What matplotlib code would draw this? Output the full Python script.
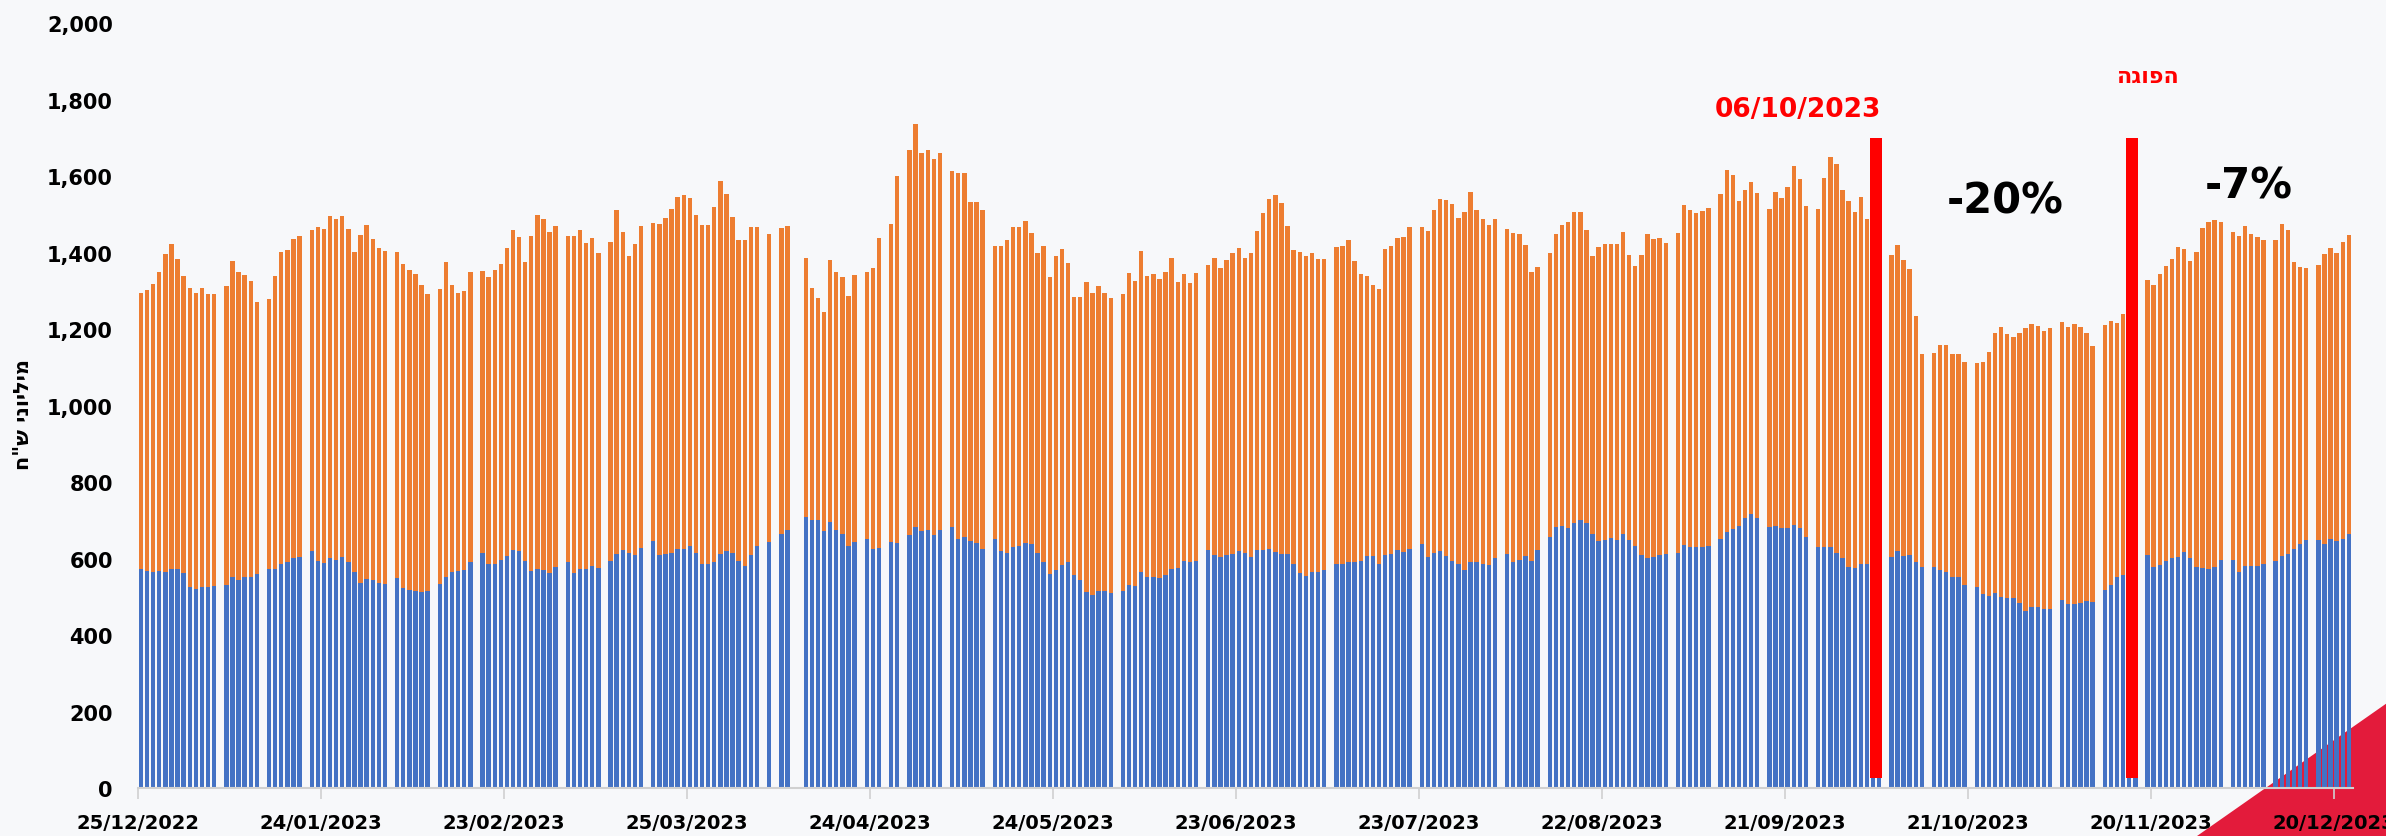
import datetime as dt

import matplotlib
matplotlib.use("Agg")
import matplotlib.pyplot as plt
from matplotlib.patches import Polygon

## data: daily values in millions NIS, day offsets counted from 25/12/2022
start = dt.date(2022, 12, 25)

run_start = [0, 14, 21, 28, 42, 49, 56, 70, 77, 84, 103, 105, 109, 119, 123, 126, 133,
             140, 161, 175, 196, 210, 224, 231, 252, 259, 267, 275, 287, 294, 301, 315,
             322, 329, 343, 350, 357]
run_len   = [13, 6, 6, 13, 6, 6, 13, 6, 6, 18, 1, 2, 9, 3, 2, 6, 6,
             20, 13, 20, 13, 13, 6, 20, 6, 7, 7, 11, 6, 6, 13, 6,
             6, 13, 6, 6, 6]

total = [
    1294, 1302, 1317, 1349, 1397, 1422, 1384, 1339, 1306, 1294, 1308, 1291, 1291,
    1312, 1377, 1350, 1342, 1325, 1271,
    1278, 1339, 1401, 1407, 1436, 1443,
    1459, 1466, 1462, 1495, 1488, 1496, 1461, 1401, 1446, 1473, 1436, 1411, 1405,
    1402, 1371, 1354, 1343, 1315, 1291,
    1304, 1374, 1316, 1294, 1299, 1349,
    1353, 1337, 1354, 1370, 1411, 1459, 1441, 1375, 1443, 1499, 1487, 1453, 1469,
    1444, 1443, 1459, 1425, 1439, 1400,
    1427, 1512, 1453, 1392, 1421, 1469,
    1477, 1475, 1489, 1514, 1545, 1551, 1542, 1498, 1471, 1471, 1518, 1586, 1552, 1492, 1433, 1434, 1468, 1467,
    1448,
    1464, 1470,
    1386, 1306, 1280, 1244, 1380, 1349, 1336, 1287, 1342,
    1349, 1359, 1439,
    1475, 1600,
    1669, 1737, 1661, 1669, 1644, 1660,
    1613, 1609, 1609, 1531, 1531, 1510,
    1416, 1416, 1432, 1466, 1466, 1482, 1450, 1400, 1416, 1335, 1392, 1409, 1372, 1283, 1283, 1323, 1295, 1312, 1294, 1280,
    1292, 1347, 1325, 1404, 1338, 1344, 1332, 1349, 1385, 1322, 1343, 1321, 1347,
    1368, 1386, 1359, 1380, 1400, 1412, 1385, 1399, 1456, 1503, 1540, 1551, 1529, 1469, 1407, 1401, 1391, 1400, 1383, 1383,
    1414, 1416, 1433, 1377, 1345, 1338, 1314, 1304, 1409, 1416, 1439, 1440, 1466,
    1467, 1456, 1510, 1540, 1537, 1528, 1491, 1506, 1559, 1511, 1487, 1473, 1488,
    1462, 1450, 1448, 1419, 1349, 1361,
    1400, 1449, 1471, 1480, 1506, 1506, 1460, 1391, 1414, 1423, 1422, 1422, 1454, 1393, 1366, 1394, 1448, 1435, 1437, 1426,
    1450, 1525, 1510, 1503, 1509, 1516,
    1553, 1616, 1602, 1535, 1564, 1585, 1556,
    1515, 1558, 1542, 1572, 1626, 1592, 1522,
    1513, 1595, 1651, 1632, 1563, 1535, 1507, 1545, 1487, 1470, 1449,
    1393, 1419, 1381, 1358, 1233, 1136,
    1137, 1159, 1159, 1134, 1134, 1115,
    1110, 1114, 1141, 1190, 1204, 1188, 1179, 1189, 1203, 1213, 1209, 1196, 1203,
    1218, 1205, 1214, 1204, 1189, 1155,
    1210, 1220, 1215, 1240, 1260, 1318,
    1329, 1316, 1344, 1365, 1382, 1414, 1410, 1379, 1402, 1465, 1479, 1485, 1479,
    1454, 1444, 1469, 1448, 1440, 1433,
    1433, 1475, 1458, 1375, 1361, 1360,
    1368, 1397, 1412, 1399, 1427, 1447,
]

blue = [
    573, 568, 566, 568, 564, 573, 573, 563, 526, 520, 526, 525, 529,
    530, 553, 545, 552, 553, 560,
    573, 573, 585, 590, 601, 604,
    619, 594, 588, 601, 597, 604, 590, 566, 536, 546, 544, 535, 533,
    550, 524, 518, 515, 512, 514,
    533, 553, 566, 567, 570, 591,
    614, 586, 586, 597, 607, 622, 619, 594, 568, 573, 570, 561, 577,
    592, 561, 572, 573, 580, 575,
    594, 613, 623, 615, 609, 627,
    647, 608, 612, 615, 626, 626, 632, 615, 586, 587, 591, 612, 621, 615, 594, 580, 609, 632,
    642,
    663, 675,
    708, 701, 701, 671, 695, 674, 663, 632, 642,
    650, 626, 627,
    644, 640,
    662, 682, 671, 674, 661, 674,
    682, 652, 655, 646, 640, 626,
    650, 619, 615, 629, 632, 641, 637, 614, 592, 559, 570, 584, 590, 557, 543, 512, 505, 516, 515, 510,
    515, 530, 528, 566, 551, 553, 550, 556, 572, 575, 593, 592, 594,
    623, 608, 604, 608, 612, 621, 615, 604, 623, 623, 626, 618, 613, 611, 587, 561, 554, 564, 564, 570,
    585, 587, 591, 592, 594, 606, 606, 586, 608, 612, 622, 616, 625,
    637, 605, 615, 620, 606, 594, 586, 571, 591, 592, 587, 584, 601,
    612, 592, 595, 606, 593, 622,
    655, 682, 684, 681, 694, 702, 692, 663, 647, 649, 653, 649, 663, 649, 633, 609, 602, 604, 608, 613,
    614, 635, 629, 629, 629, 633,
    651, 670, 676, 686, 706, 716, 706,
    683, 686, 679, 681, 688, 681, 656,
    630, 630, 630, 614, 601, 579, 574, 586, 586, 590, 607,
    604, 619, 607, 609, 592, 577,
    577, 571, 566, 553, 551, 532,
    525, 507, 501, 511, 500, 498, 497, 483, 464, 473, 473, 468, 468,
    492, 480, 482, 485, 490, 487,
    517, 532, 551, 558, 565, 580,
    608, 577, 584, 593, 602, 605, 617, 602, 579, 576, 573, 577, 597,
    597, 566, 581, 581, 581, 587,
    594, 606, 613, 626, 637, 648,
    648, 639, 652, 647, 652, 665,
]

tick_days   = list(range(0, 361, 30))
tick_labels = [(start + dt.timedelta(days=d)).strftime("%d/%m/%Y") for d in tick_days]

## red markers: war start (06/10/2023) and the truce
event_day = [285, 327]
event_top = 1700
event_bot = 27

days = [s + i for s, n in zip(run_start, run_len) for i in range(n)]
assert len(days) == len(total) == len(blue)
orange = [t - b for t, b in zip(total, blue)]
xpos = [d + 0.5 for d in days]

BLUE   = "#4472C4"
ORANGE = "#ED7D31"
RED    = "#FF0000"

fig = plt.figure(figsize=(23.86, 8.37), dpi=100, facecolor="#f7f8fa")

## decorative red corner, bottom right
fig.add_artist(Polygon([(0.9208, 0.0), (1.0, 0.158), (1.0, 0.0)], closed=True,
                       transform=fig.transFigure, facecolor="#e31b3b",
                       edgecolor="none", zorder=-1))

ax = fig.add_axes([0.0578, 0.0573, 0.9284, 0.914])
ax.set_facecolor("none")

ax.bar(xpos, blue, width=0.72, color=BLUE, zorder=2)
ax.bar(xpos, orange, width=0.72, bottom=blue, color=ORANGE, zorder=2)

ax.bar(event_day, event_top - event_bot, bottom=event_bot, width=1.95,
       color=RED, zorder=3)

ax.set_xlim(0, 363.2)
ax.set_ylim(0, 2000)

ax.set_xticks(tick_days)
ax.set_xticklabels(tick_labels, fontsize=14, fontweight="bold")
ax.tick_params(axis="x", length=8, width=1.2, color="#d0d0d0", pad=10)

ax.set_yticks(range(0, 2001, 200))
ax.set_yticklabels([f"{v:,}" for v in range(0, 2001, 200)], fontsize=15, fontweight="bold")
ax.tick_params(axis="y", length=0, pad=18)

for s in ["top", "right", "left"]:
    ax.spines[s].set_visible(False)
ax.spines["bottom"].set_color("#d0d0d0")
ax.spines["bottom"].set_linewidth(1.5)

## hebrew is written reversed, matplotlib has no bidi support
fig.text(0.0096, 0.505, 'ח"ש ינוילימ', rotation=90, ha="center", va="center",
         fontsize=15, fontweight="bold")

ax.text(272.1, 1776, "06/10/2023", color=RED, fontsize=19, fontweight="bold",
        ha="center", va="center")
ax.text(329.7, 1862, "הגופה", color=RED, fontsize=16, fontweight="bold",
        ha="center", va="center")
ax.text(306.2, 1537, "-20%", color="black", fontsize=30, fontweight="bold",
        ha="center", va="center")
ax.text(346.1, 1576, "-7%", color="black", fontsize=30, fontweight="bold",
        ha="center", va="center")

fig.savefig("out.png", dpi=100, facecolor=fig.get_facecolor())
